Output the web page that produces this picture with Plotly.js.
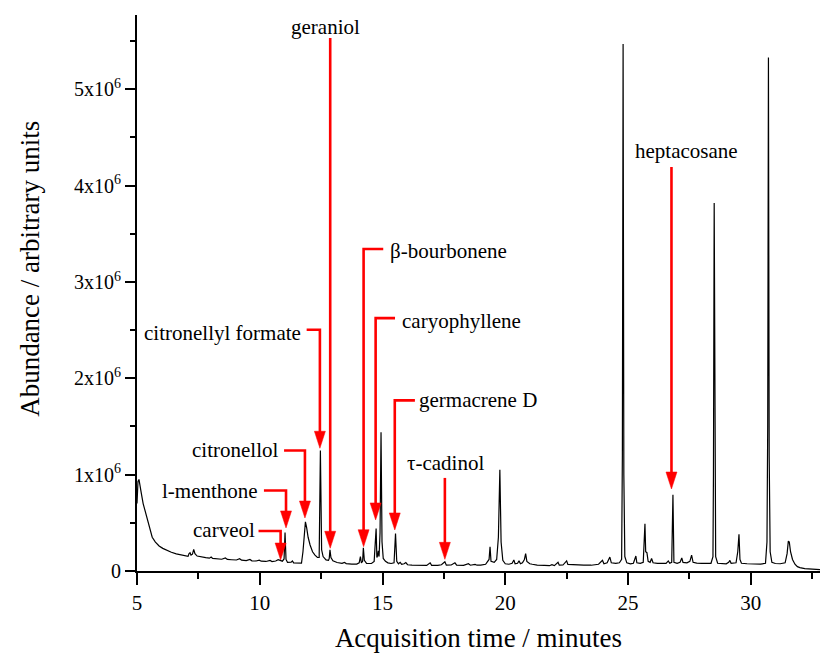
<!DOCTYPE html>
<html>
<head>
<meta charset="utf-8">
<script src="https://cdn.plot.ly/plotly-3.0.1.min.js"></script>
<style>
html,body{margin:0;padding:0;background:#fff;}
#chart{width:820px;height:657px;}
</style>
</head>
<body>
<div id="chart"></div>
<script>
// ---------------- DATA ----------------
// Acquisition time (minutes)
const time = [
5.00,5.04,5.08,5.12,5.18,5.25,5.33,5.42,5.52,5.62,5.75,5.90,6.05,6.20,6.40,6.60,6.80,7.00,7.08,7.12,
7.16,7.20,7.26,7.31,7.36,7.45,7.60,7.80,7.95,8.02,8.08,8.25,8.45,8.60,8.68,8.85,9.05,9.18,9.26,9.45,
9.60,9.68,9.85,9.98,10.06,10.25,10.42,10.50,10.65,10.75,10.82,10.92,10.99,11.03,11.07,11.13,11.28,11.33,11.38,11.55,
11.70,11.76,11.81,11.86,11.91,11.97,12.05,12.15,12.25,12.35,12.42,12.47,12.52,12.58,12.70,12.80,12.83,12.86,12.90,12.98,
13.15,13.35,13.45,13.52,13.75,13.95,14.05,14.10,14.14,14.19,14.22,14.26,14.35,14.55,14.66,14.71,14.74,14.77,14.80,14.83,
14.86,14.90,14.94,14.98,15.03,15.12,15.22,15.35,15.47,15.53,15.58,15.65,15.72,15.78,15.88,15.95,16.02,16.20,16.40,16.60,
16.80,16.94,17.00,17.25,17.40,17.54,17.60,17.80,17.95,18.02,18.30,18.50,18.58,18.77,18.85,19.00,19.20,19.34,19.38,19.42,
19.55,19.65,19.72,19.78,19.83,19.90,20.00,20.15,20.28,20.35,20.40,20.50,20.56,20.62,20.70,20.78,20.83,20.88,21.00,21.10,
21.30,21.60,21.80,21.90,22.00,22.15,22.20,22.35,22.50,22.55,22.75,22.90,23.20,23.50,23.70,23.80,23.96,24.02,24.15,24.26,
24.32,24.50,24.65,24.74,24.77,24.80,24.83,24.87,24.95,25.10,25.22,25.32,25.36,25.50,25.62,25.66,25.69,25.72,25.77,25.82,
25.90,25.96,26.02,26.20,26.40,26.55,26.64,26.70,26.78,26.83,26.87,27.00,27.12,27.19,27.24,27.40,27.52,27.59,27.65,27.80,
28.00,28.20,28.38,28.46,28.48,28.51,28.54,28.57,28.65,28.85,29.00,29.10,29.15,29.20,29.40,29.47,29.52,29.56,29.62,29.85,
30.10,30.40,30.60,30.66,30.69,30.72,30.75,30.79,30.86,31.00,31.20,31.40,31.48,31.53,31.57,31.62,31.70,31.80,31.90,32.00,
32.20,32.40,32.60,32.82
];
// Abundance (units of 10^6, arbitrary)
const abundance = [
0.70,0.93,0.95,0.90,0.80,0.70,0.62,0.52,0.42,0.35,0.30,0.26,0.235,0.215,0.195,0.178,0.167,0.157,0.152,0.18,
0.19,0.165,0.175,0.225,0.18,0.155,0.145,0.138,0.133,0.145,0.13,0.126,0.122,0.135,0.12,0.117,0.114,0.128,0.112,0.108,
0.12,0.106,0.104,0.113,0.102,0.099,0.11,0.098,0.104,0.118,0.108,0.102,0.125,0.40,0.12,0.09,0.092,0.105,0.085,0.08,
0.082,0.20,0.42,0.51,0.45,0.35,0.27,0.20,0.165,0.14,0.14,1.25,0.22,0.15,0.115,0.11,0.13,0.22,0.14,0.105,
0.088,0.08,0.09,0.077,0.072,0.072,0.085,0.15,0.085,0.10,0.24,0.11,0.08,0.078,0.10,0.30,0.44,0.14,0.16,0.21,
0.15,0.40,1.44,0.30,0.13,0.10,0.085,0.078,0.085,0.39,0.10,0.075,0.09,0.07,0.075,0.088,0.065,0.06,0.058,0.056,
0.058,0.085,0.058,0.058,0.065,0.095,0.06,0.062,0.085,0.06,0.058,0.075,0.06,0.068,0.06,0.062,0.07,0.12,0.25,0.10,
0.09,0.12,0.35,1.05,0.30,0.11,0.075,0.07,0.08,0.115,0.075,0.08,0.105,0.075,0.085,0.12,0.18,0.10,0.075,0.07,
0.062,0.058,0.055,0.065,0.056,0.09,0.06,0.062,0.105,0.068,0.065,0.06,0.062,0.06,0.062,0.07,0.11,0.075,0.085,0.145,
0.085,0.08,0.085,0.12,1.20,5.47,1.00,0.15,0.085,0.075,0.08,0.155,0.085,0.08,0.09,0.25,0.49,0.20,0.19,0.10,
0.09,0.13,0.085,0.08,0.078,0.08,0.105,0.08,0.09,0.79,0.09,0.08,0.09,0.135,0.09,0.085,0.10,0.165,0.09,0.082,
0.08,0.078,0.08,0.15,1.00,3.82,0.90,0.15,0.08,0.076,0.075,0.09,0.11,0.08,0.085,0.20,0.38,0.12,0.08,0.075,
0.073,0.072,0.08,0.30,1.50,5.33,1.20,0.20,0.09,0.078,0.075,0.085,0.18,0.31,0.30,0.20,0.12,0.07,0.045,0.035,
0.025,0.02,0.017,0.015
];
const xTickVals = [5, 10, 15, 20, 25, 30];
const xTickText = ['5', '10', '15', '20', '25', '30'];
const yTickVals = [0, 1, 2, 3, 4, 5];
const yTickText = ['0', '1x10<sup>6</sup>', '2x10<sup>6</sup>', '3x10<sup>6</sup>', '4x10<sup>6</sup>', '5x10<sup>6</sup>'];
const compounds = ['carveol', 'l-menthone', 'citronellol', 'citronellyl formate', 'geraniol',
                   'β-bourbonene', 'caryophyllene', 'germacrene D', 'τ-cadinol', 'heptacosane'];
const retentionTimes = [10.85, 11.07, 11.84, 12.45, 12.87, 14.23, 14.72, 15.50, 17.54, 26.77];

// ---------------- LAYOUT CONFIG (callout placement) ----------------
const callouts = [
  {lx: 9.876, ly: 0.426, xa: 'right',  elbowX: 9.95,  elbowY: 0.415, tipY: 0.114},
  {lx: 10.01, ly: 0.831, xa: 'right',  elbowX: 10.17, elbowY: 0.836, tipY: 0.447},
  {lx: 10.82, ly: 1.256, xa: 'right',  elbowX: 10.99, elbowY: 1.251, tipY: 0.55},
  {lx: 11.77, ly: 2.471, xa: 'right',  elbowX: 11.91, elbowY: 2.503, tipY: 1.274},
  {lx: 12.68, ly: 5.649, xa: 'center', topY: 5.532, tipY: 0.236},
  {lx: 15.22, ly: 3.316, xa: 'left',   elbowX: 15.03, elbowY: 3.341, tipY: 0.252},
  {lx: 15.71, ly: 2.599, xa: 'left',   elbowX: 15.51, elbowY: 2.624, tipY: 0.53},
  {lx: 16.42, ly: 1.776, xa: 'left',   elbowX: 16.32, elbowY: 1.771, tipY: 0.426},
  {lx: 17.57, ly: 1.121, xa: 'center', topY: 0.966, tipY: 0.121},
  {lx: 27.40, ly: 4.354, xa: 'center', topY: 4.192, tipY: 0.851}
];

const FONT = '"Liberation Serif", "Times New Roman", Times, serif';
const RED = '#ff0000';

const annotations = [];
const shapes = [];
compounds.forEach((name, i) => {
  const c = callouts[i];
  const t = retentionTimes[i];
  annotations.push({
    text: name, x: c.lx, y: c.ly, xref: 'x', yref: 'y',
    xanchor: c.xa, yanchor: 'middle', showarrow: false,
    font: {family: FONT, size: 21, color: '#000'}
  });
  const endY = c.tipY + 0.12;
  let path;
  if (c.elbowX !== undefined) {
    path = `M${c.elbowX},${c.elbowY} L${t},${c.elbowY} L${t},${endY}`;
  } else {
    path = `M${t},${c.topY} L${t},${endY}`;
  }
  shapes.push({type: 'path', xref: 'x', yref: 'y', path: path,
               line: {color: RED, width: 2.6}, layer: 'above'});
  shapes.push({type: 'path', xref: 'x', yref: 'y', xsizemode: 'pixel', ysizemode: 'pixel',
               xanchor: t, yanchor: c.tipY, path: 'M0,0 L-5.5,17 L5.5,17 Z',
               fillcolor: RED, line: {color: RED, width: 0.5}, layer: 'above'});
});

annotations.push({
  text: 'Abundance / arbitrary units', xref: 'paper', yref: 'paper',
  x: -0.157, y: 0.543, xanchor: 'center', yanchor: 'middle', textangle: -90,
  showarrow: false, font: {family: FONT, size: 27, color: '#000'}
});

const trace = {
  x: time, y: abundance, type: 'scatter', mode: 'lines',
  line: {color: '#000', width: 1.2}, hoverinfo: 'skip', showlegend: false
};

const layout = {
  width: 820, height: 657,
  margin: {l: 137, r: 0, t: 15, b: 86},
  paper_bgcolor: '#fff', plot_bgcolor: '#fff',
  font: {family: FONT, color: '#000'},
  showlegend: false,
  xaxis: {
    range: [5, 32.82], showgrid: false, zeroline: false,
    showline: true, linecolor: '#000', linewidth: 2,
    tickmode: 'array', tickvals: xTickVals, ticktext: xTickText,
    ticks: 'outside', ticklen: 12, tickwidth: 2, tickcolor: '#000',
    tickfont: {family: FONT, size: 21, color: '#000'},
    minor: {tickmode: 'linear', tick0: 7.5, dtick: 5, ticks: 'outside', ticklen: 6, tickwidth: 2, tickcolor: '#000', showgrid: false},
    title: {text: 'Acquisition time / minutes', font: {family: FONT, size: 27, color: '#000'}, standoff: 14},
    automargin: false
  },
  yaxis: {
    range: [0, 5.77], showgrid: false, zeroline: false,
    showline: true, linecolor: '#000', linewidth: 2,
    tickmode: 'array', tickvals: yTickVals, ticktext: yTickText,
    ticks: 'outside', ticklen: 10, tickwidth: 2, tickcolor: '#000',
    tickfont: {family: FONT, size: 20, color: '#000'},
    minor: {tickmode: 'linear', tick0: 0.5, dtick: 1, ticks: 'outside', ticklen: 5, tickwidth: 2, tickcolor: '#000', showgrid: false},
    automargin: false
  },
  annotations: annotations,
  shapes: shapes
};

Plotly.newPlot('chart', [trace], layout, {displayModeBar: false, staticPlot: true});
</script>
</body>
</html>
